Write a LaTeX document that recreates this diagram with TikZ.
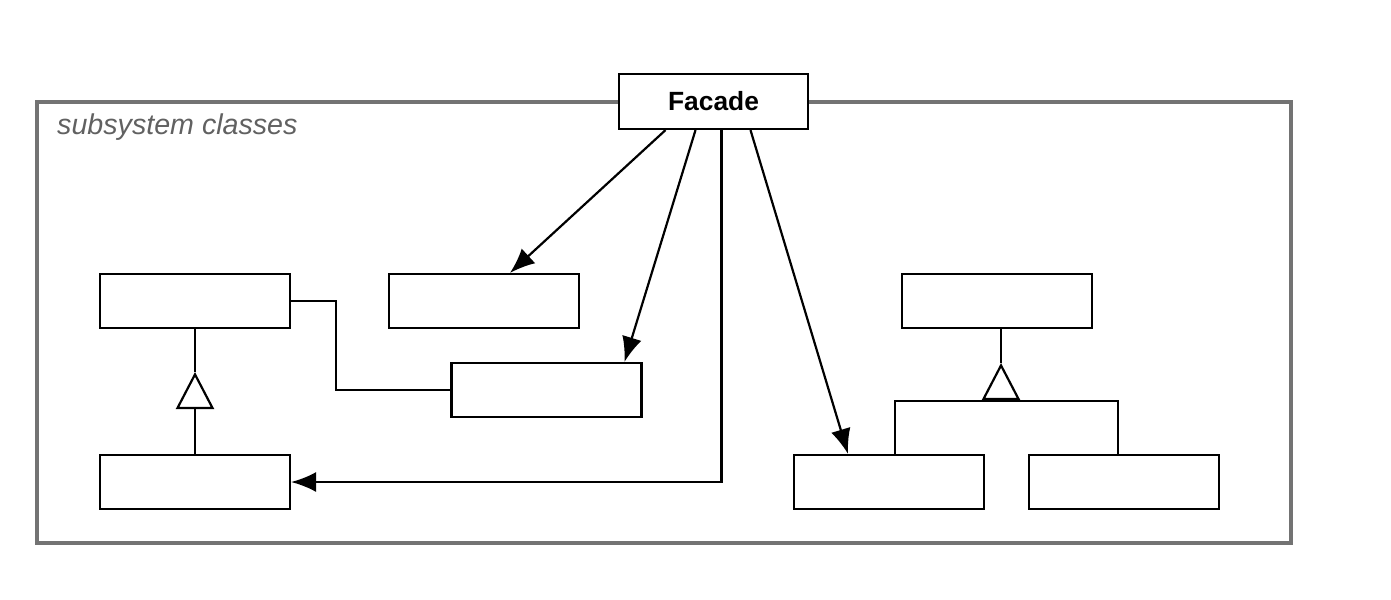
\documentclass[tikz,border=0pt]{standalone}
\usepackage{fontspec}
\setmainfont{Liberation Sans}
\usepackage{tikz}
\usetikzlibrary{arrows.meta,positioning,calc}

\begin{document}
\begin{tikzpicture}[
    x=0.02cm, y=-0.02cm,
    box/.style={rectangle, draw=black, fill=white, line width=1.25pt, minimum width=3.8cm, minimum height=1.08cm},
    facade/.style={rectangle, draw=black, fill=white, line width=1.25pt, minimum width=3.78cm, minimum height=1.1cm, font=\bfseries\fontsize{15}{18}\selectfont},
    arrow/.style={-{Latex[length=5mm, width=4mm]}, line width=1.25pt},
    link/.style={line width=1.25pt},
    inherit/.style={-{Triangle[open, fill=white, length=7.4mm, width=7.6mm]}, line width=1.25pt},
    frame/.style={draw=black!55, line width=2.2pt}
]
\useasboundingbox (0,0) rectangle (1391,599);
% subsystem package
\draw[frame] (37,102) rectangle (1291,543);
\node[anchor=west, text=black!62, font=\itshape\fontsize{16.3}{19}\selectfont] (label) at (51,127) {subsystem classes};

\node[facade] (Facade) at (713.5,101.5) {Facade};

\node[box] (A) at (195,301) {};
\node[box] (B) at (484,301) {};
\node[box] (C) at (546.5,390) {};
\node[box] (D) at (195,482) {};
\node[box] (E) at (889,482) {};
\node[box] (F) at (997,301) {};
\node[box] (G) at (1124,482) {};

% facade uses the subsystem
\draw[arrow] ($(Facade.south)+(-48,0)$) -- ($(B.north)+(26,0)$);
\draw[arrow] ($(Facade.south)+(-18,0)$) -- ($(C.north)+(78,0)$);
\draw[arrow] ($(Facade.south)+(8,0)$) |- (D.east);
\draw[arrow] ($(Facade.south)+(37,0)$) -- ($(E.north)+(-41,0)$);

% association and generalisations
\draw[link] (A.east) -- ++(45,0) |- (C.west);
\coordinate (tipA) at (195,372);
\draw[inherit] (D.north) -- (tipA);
\draw[link] (tipA) -- (A.south);

\coordinate (bar) at (1001,401);
\coordinate (tipF) at (1001,363);
\draw[link] ($(E.north)+(6,0)$) |- (bar) -| ($(G.north)+(-6,0)$);
\draw[inherit] (bar) -- (tipF);
\draw[link] (tipF) -- (F.south -| tipF);
\end{tikzpicture}
\end{document}
